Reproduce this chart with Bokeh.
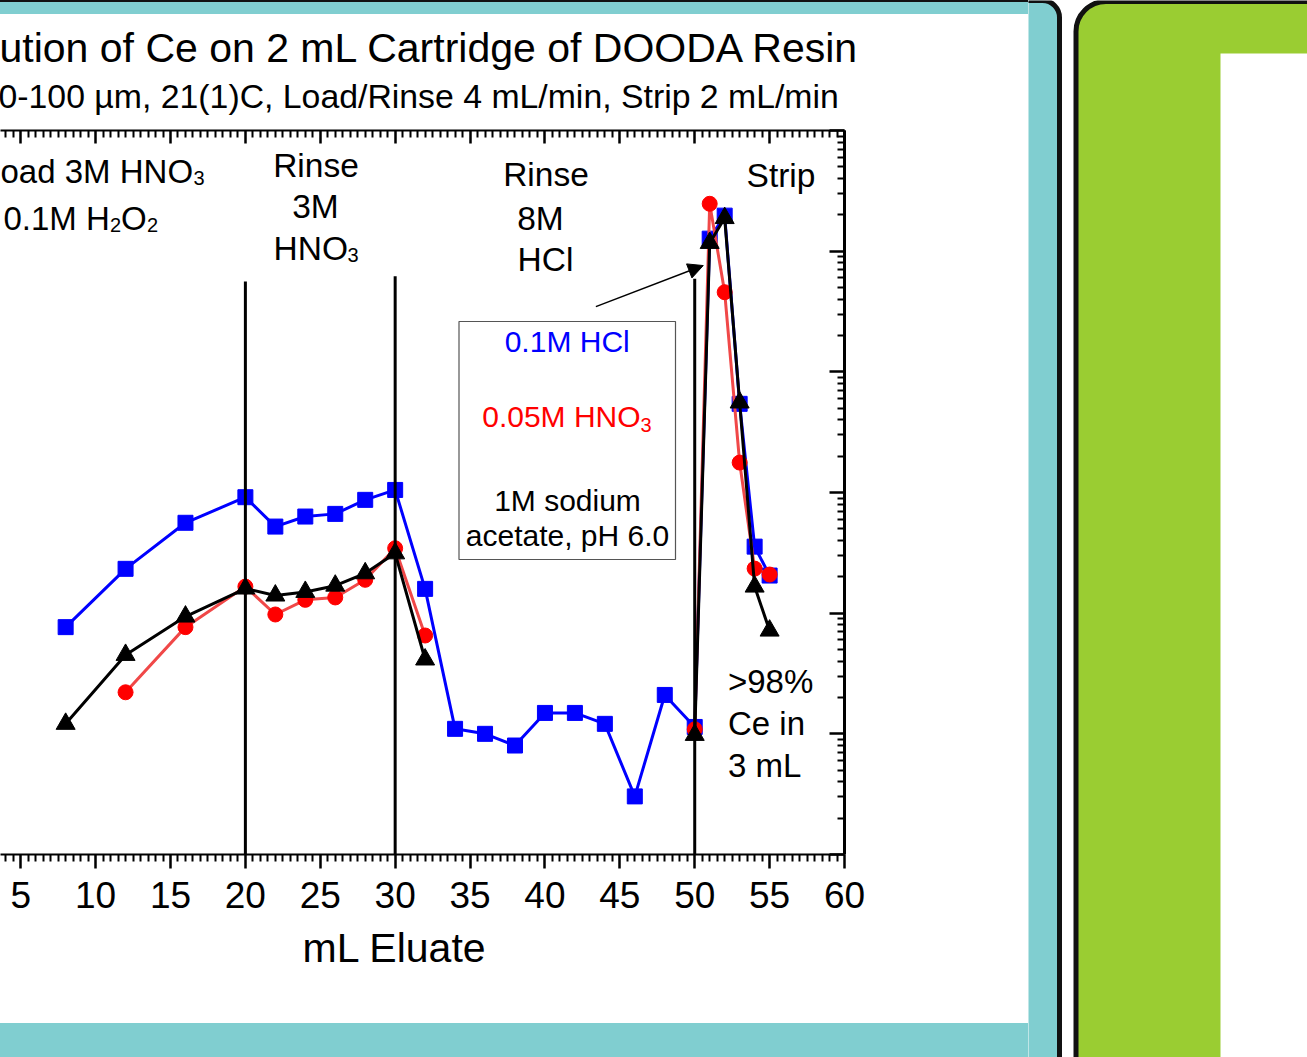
import numpy as np
from bokeh.plotting import figure
from bokeh.models import (Range1d, LinearAxis, FixedTicker, Label, Arrow, NormalHead,
                          BoxAnnotation, Title, Div)
from bokeh.layouts import row, column
from bokeh.embed import file_html
from bokeh.resources import INLINE

FONT = "Liberation Sans"
TEAL = "#80CED0"
GREEN = "#9ACD32"

# ---------------- data (mL eluate vs. relative Ce concentration) ----------------
hcl_x = [8, 12, 16, 20, 22, 24, 26, 28, 30, 32, 34, 36, 38, 40, 42, 44, 46, 48, 50, 51, 52, 53, 54, 55]
hcl_y = [0.00766, 0.0233, 0.0561, 0.0914, 0.0522, 0.0632, 0.0665, 0.0869, 0.105, 0.0159,
         0.0011, 0.0010, 0.0008, 0.00149, 0.00149, 0.00121, 0.000303, 0.0021, 0.00114,
         12.7, 19.7, 0.543, 0.0356, 0.0205]

hno3_load_x = [12, 16, 20, 22, 24, 26, 28, 30, 32]
hno3_load_y = [0.00221, 0.00766, 0.0166, 0.00975, 0.0129, 0.0135, 0.0189, 0.0345, 0.00653]
hno3_strip_x = [50, 51, 52, 53, 54, 55]
hno3_strip_y = [0.00109, 24.7, 4.57, 0.177, 0.0234, 0.0209]

naoac_load_x = [8, 12, 16, 20, 22, 24, 26, 28, 30, 32]
naoac_load_y = [0.00121, 0.00451, 0.00937, 0.0160, 0.0140, 0.0150, 0.0169, 0.0214, 0.0313, 0.00413]
naoac_strip_x = [50, 51, 52, 53, 54, 55]
naoac_strip_y = [0.00098, 11.7, 18.8, 0.557, 0.0166, 0.00717]

# step boundaries (vertical lines)
boundary_x = [20, 30, 50]
boundary_top = [5.6, 6.2, 5.9]

x_major = list(range(0, 61, 5))
x_minor = [v / 2 for v in range(0, 121) if v % 10 != 0]
y_major = [10.0 ** k for k in range(-4, 3)]
y_minor = [m * 10.0 ** k for k in range(-4, 2) for m in range(2, 10)]

# ---------------- main figure ----------------
FB = 854   # window y of the frame bottom
BL = 12    # baseline correction for labels
p = figure(width=1028, height=1009,
           x_range=Range1d(3.65, 60), y_range=Range1d(1e-4, 1e2),
           y_axis_type="log", y_axis_location="right",
           toolbar_location=None, output_backend="svg",
           min_border_left=0, min_border_right=184, min_border_top=116, min_border_bottom=169,
           outline_line_color=None, background_fill_color="white", border_fill_color="white")
p.grid.visible = False

xa = p.xaxis[0]
xa.ticker = FixedTicker(ticks=x_major, minor_ticks=x_minor)
xa.major_tick_out = 14
xa.major_tick_in = 0
xa.minor_tick_out = 7
xa.minor_tick_in = 0
xa.axis_line_width = 2
xa.major_tick_line_width = 2.5
xa.minor_tick_line_width = 2
xa.major_label_text_font = FONT
xa.major_label_text_font_size = "37px"
xa.major_label_text_color = "black"
xa.major_label_standoff = 13

top = LinearAxis(ticker=FixedTicker(ticks=x_major, minor_ticks=x_minor))
top.major_tick_in = 13
top.major_tick_out = 0
top.minor_tick_in = 7
top.minor_tick_out = 0
top.axis_line_width = 2
top.major_tick_line_width = 2.5
top.minor_tick_line_width = 2
top.major_label_text_color = None
top.major_label_text_font_size = "0px"
top.major_label_standoff = 0
p.add_layout(top, "above")

ya = p.yaxis[0]
ya.ticker = FixedTicker(ticks=y_major, minor_ticks=y_minor)
ya.major_tick_in = 15
ya.major_tick_out = 0
ya.minor_tick_in = 7
ya.minor_tick_out = 0
ya.axis_line_width = 3
ya.major_tick_line_width = 2.5
ya.minor_tick_line_width = 2
ya.major_label_text_color = None

# titles (stacked above the top axis)
p.add_layout(Title(text="0-100 µm, 21(1)C, Load/Rinse 4 mL/min, Strip 2 mL/min",
                   align="left", offset=-2, vertical_align="top", standoff=28,
                   text_font=FONT, text_font_size="33.8px", text_font_style="normal",
                   text_color="black"), "above")
p.title.text = "ution of Ce on 2 mL Cartridge of DOODA Resin"
p.title.align = "left"
p.title.offset = -1
p.title.vertical_align = "bottom"
p.title.standoff = -16
p.title.text_font = FONT
p.title.text_font_size = "41px"
p.title.text_font_style = "normal"
p.title.text_color = "black"

# x-axis title, placed to be centred on the full 0-60 axis
p.add_layout(Title(text="mL Eluate", align="left", offset=302, vertical_align="top",
                   standoff=28, text_font=FONT, text_font_size="41px",
                   text_font_style="normal", text_color="black"), "below")

# series
p.line(hcl_x, hcl_y, line_color="#0000FF", line_width=3)
p.scatter(hcl_x, hcl_y, marker="square", size=15, fill_color="#0000FF", line_color="#0000FF")

for xs, ys in ((hno3_load_x, hno3_load_y), (hno3_strip_x, hno3_strip_y)):
    p.line(xs, ys, line_color="#F04848", line_width=3)
    p.scatter(xs, ys, marker="circle", size=15, fill_color="#FF0000", line_color="#FF0000")

p.segment(x0=boundary_x, y0=[1e-4] * len(boundary_x), x1=boundary_x, y1=boundary_top,
          line_color="black", line_width=3)

for xs, ys in ((naoac_load_x, naoac_load_y), (naoac_strip_x, naoac_strip_y)):
    p.line(xs, ys, line_color="black", line_width=3)
    p.scatter(xs, ys, marker="triangle", size=19, fill_color="black", line_color="black")

# legend box
p.add_layout(BoxAnnotation(left=458.5, right=675, top=FB - 321, bottom=FB - 559,
                           left_units="screen", right_units="screen",
                           top_units="screen", bottom_units="screen",
                           fill_color="white", fill_alpha=1.0,
                           line_color="#555555", line_width=1.2, line_alpha=1.0))

# arrow pointing to the strip peak
p.add_layout(Arrow(end=NormalHead(size=15, fill_color="black", line_color="black"),
                   x_start=43.4, y_start=3.47, x_end=50.57, y_end=7.6,
                   line_color="black", line_width=1.5))


def lab(text, x, yb, size, color="black", align="left"):
    p.add_layout(Label(x=x, y=FB - yb + BL, x_units="screen", y_units="screen", text=text,
                       text_font=FONT, text_font_size=f"{size}px", text_color=color,
                       text_align=align, text_baseline="alphabetic"))


# phase annotations
lab("oad 3M HNO", 0, 183.3, 33)
lab("3", 192.9, 189.5, 20)
lab("0.1M H", 3, 230, 33)
lab("2", 109.5, 236.5, 20)
lab("O", 120.5, 230, 33)
lab("2", 146.5, 236.5, 20)

lab("Rinse", 315.5, 176.7, 33.5, align="center")
lab("3M", 315, 218.3, 33.5, align="center")
lab("HNO", 273, 260, 33.5)
lab("3", 347, 266.5, 20)

lab("Rinse", 545.5, 185.7, 33.5, align="center")
lab("8M", 540, 230, 33.5, align="center")
lab("HCl", 545, 270.7, 33.5, align="center")

lab("Strip", 780.5, 187, 33.5, align="center")

lab(">98%", 727.5, 693, 33)
lab("Ce in", 727.5, 735, 33)
lab("3 mL", 727.5, 777, 33)

# legend texts
lab("0.1M HCl", 566.7, 353.3, 30, color="#0000FF", align="center")
lab("0.05M HNO", 481.7, 428.3, 30, color="#FF0000")
lab("3", 640, 436.5, 20, color="#FF0000")
lab("1M sodium", 567, 511.7, 30, align="center")
lab("acetate, pH 6.0", 567, 546.7, 30, align="center")

# ---------------- surrounding decoration ----------------
top_strip = Div(text="", width=1028, height=14, margin=0,
                styles={"background-color": TEAL, "border-top": "2.5px solid #111111",
                        "box-sizing": "border-box"})
bottom_strip = Div(text="", width=1028, height=34, margin=0,
                   styles={"background-color": TEAL})

H = 1057
side = figure(width=279, height=H, x_range=Range1d(1028, 1307), y_range=Range1d(0, H),
              toolbar_location=None, output_backend="svg", min_border=0,
              x_axis_location=None, y_axis_location=None, outline_line_color=None,
              background_fill_color="white", border_fill_color="white")
side.grid.visible = False
side.quad(left=1000, right=1059, top=H - 0, bottom=-30, fill_color=TEAL,
          line_color="#111111", line_width=5, border_radius=(0, 17, 0, 0))
side.quad(left=1075.5, right=1400, top=H - 1, bottom=-30, fill_color=GREEN,
          line_color="#111111", line_width=5, border_radius=(30, 0, 0, 0))
side.quad(left=1220, right=1400, top=H - 53, bottom=-30, fill_color="white", line_color=None)

layout = row(column(top_strip, p, bottom_strip, spacing=0), side, spacing=0)

open("out.html", "w").write(file_html(layout, INLINE))
